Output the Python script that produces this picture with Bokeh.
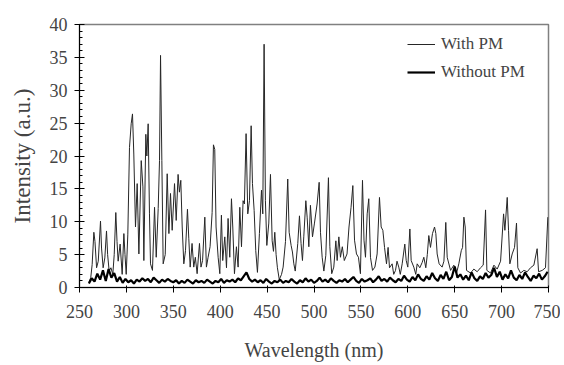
from bokeh.plotting import figure
from bokeh.models import Range1d, SingleIntervalTicker, Legend, LegendItem
from bokeh.embed import file_html
from bokeh.resources import INLINE

# ---- data ----
wl_with = [260.0, 262.0, 263.5, 265.3, 266.5, 268.2, 270.0, 272.4, 273.5, 275.2, 277.0, 278.8, 280.0, 281.6,
           283.5, 285.5, 287.0, 288.7, 290.0, 291.2, 293.3, 295.5, 297.3, 298.5, 299.8, 301.5, 303.3, 305.1,
           306.5, 307.9, 309.7, 311.5, 313.3, 315.8, 317.6, 318.6, 320.7, 321.8, 323.2, 324.6, 325.7, 327.8,
           330.0, 331.8, 333.9, 335.3, 336.4, 337.8, 339.2, 341.4, 343.5, 345.3, 347.0, 348.8, 351.3, 353.1,
           355.1, 356.5, 358.0, 359.5, 361.2, 363.0, 365.1, 366.5, 368.0, 370.0, 371.8, 373.5, 375.4, 377.9,
           379.5, 381.2, 383.6, 385.3, 387.1, 389.2, 391.4, 392.8, 394.2, 395.6, 397.8, 399.6, 401.3, 402.7,
           404.9, 406.7, 408.4, 410.2, 412.0, 413.4, 415.2, 417.3, 419.1, 420.9, 422.7, 424.4, 425.8, 427.6,
           429.4, 431.2, 433.0, 434.4, 436.2, 437.9, 439.7, 441.8, 444.0, 445.4, 446.8, 448.2, 449.7, 451.8,
           453.6, 455.4, 456.8, 458.2, 459.6, 461.0, 463.0, 465.4, 467.1, 469.6, 472.0, 473.5, 475.6, 477.0,
           478.5, 480.0, 482.7, 484.5, 486.2, 487.7, 489.1, 491.3, 492.7, 494.5, 496.2, 498.4, 500.5, 503.3,
           505.5, 506.9, 508.7, 510.5, 512.6, 515.4, 516.9, 518.9, 521.1, 523.3, 524.7, 526.5, 528.2, 530.2,
           532.3, 535.2, 537.3, 539.5, 541.4, 543.2, 545.3, 547.4, 549.5, 551.7, 553.3, 554.9, 556.7, 558.4,
           560.2, 562.4, 564.9, 567.3, 569.8, 571.6, 573.4, 575.2, 577.3, 579.0, 580.5, 583.3, 585.0, 586.9,
           588.5, 590.4, 592.0, 594.0, 596.8, 598.3, 600.0, 602.2, 603.6, 606.4, 608.5, 610.0, 612.8, 615.3,
           617.1, 619.2, 620.8, 622.4, 624.2, 626.3, 628.5, 629.9, 631.3, 633.4, 636.6, 638.5, 640.5, 642.0,
           645.6, 649.1, 652.0, 654.4, 657.0, 658.4, 659.8, 661.2, 662.6, 666.9, 670.4, 674.0, 677.5, 680.4,
           682.9, 684.3, 688.2, 691.8, 695.3, 698.9, 702.1, 703.5, 706.0, 707.4, 708.8, 711.3, 713.8, 715.9,
           717.3, 720.2, 723.7, 727.3, 730.8, 734.4, 737.9, 739.4, 743.3, 746.8, 749.3]
int_with = [0.8, 1.5, 3.5, 8.4, 7.0, 3.0, 4.0, 10.1, 6.0, 3.0, 4.5, 8.6, 5.0, 2.5,
            3.0, 2.0, 5.0, 11.4, 7.0, 4.0, 6.6, 2.0, 8.2, 5.0, 2.0, 8.0, 21.3, 24.9,
            26.4, 20.3, 9.2, 15.8, 5.1, 19.3, 15.3, 4.1, 23.3, 20.0, 24.9, 11.2, 3.6, 2.6,
            12.2, 4.6, 12.0, 19.3, 35.3, 19.3, 3.6, 5.0, 17.3, 8.2, 14.3, 8.7, 15.8, 10.2,
            17.2, 14.5, 16.3, 9.2, 3.6, 5.6, 11.9, 7.5, 3.1, 6.7, 3.1, 4.6, 2.1, 6.7,
            3.1, 4.1, 10.7, 3.1, 4.6, 6.2, 11.4, 21.7, 21.0, 9.2, 4.6, 2.1, 11.0, 4.1,
            7.7, 3.0, 10.5, 4.6, 13.5, 9.2, 2.1, 6.2, 3.1, 12.2, 6.2, 13.2, 12.7, 23.4,
            11.2, 13.2, 24.6, 15.8, 11.7, 5.6, 2.3, 8.2, 14.8, 11.2, 37.0, 13.2, 6.4, 9.8,
            17.2, 7.1, 5.5, 8.4, 5.0, 3.0, 1.2, 2.0, 3.1, 7.0, 16.5, 8.4, 6.4, 5.4,
            3.6, 2.5, 6.7, 10.9, 6.7, 4.1, 7.7, 13.2, 10.7, 6.2, 12.5, 7.7, 9.8, 12.7,
            16.0, 8.4, 4.6, 2.5, 4.9, 16.7, 6.2, 2.1, 3.1, 7.1, 4.1, 7.7, 4.6, 6.2,
            4.1, 5.1, 9.2, 12.2, 15.5, 7.2, 5.1, 4.6, 2.1, 16.3, 7.2, 4.6, 11.2, 13.5,
            4.6, 2.6, 3.1, 5.1, 13.7, 9.2, 8.7, 6.1, 3.6, 6.1, 3.0, 3.6, 2.0, 2.6,
            4.0, 3.1, 2.0, 3.6, 6.6, 4.1, 3.1, 8.9, 4.1, 3.1, 2.0, 3.6, 3.0, 3.8,
            4.6, 3.0, 5.0, 7.9, 6.1, 8.2, 9.2, 8.2, 5.1, 3.6, 3.1, 4.0, 9.9, 4.6,
            2.6, 3.4, 2.2, 3.6, 5.6, 6.1, 10.7, 9.2, 2.6, 2.2, 2.8, 2.4, 3.0, 3.4,
            11.8, 2.6, 2.2, 3.4, 2.8, 4.0, 11.2, 8.7, 13.7, 8.7, 3.6, 5.1, 6.1, 9.8,
            3.0, 2.2, 2.6, 2.4, 3.0, 3.4, 5.9, 2.4, 2.6, 3.0, 10.7]

wl_without = list(range(260, 750, 3))
int_without = [0.6, 1.4, 0.9, 2.1, 1.2, 2.6, 1.0, 2.8, 1.5, 2.2,
               0.9, 1.6, 0.7, 1.3, 0.8, 1.1, 0.6, 1.2, 0.9, 1.4,
               1.0, 1.3, 0.8, 1.5, 1.1, 0.7, 1.2, 0.9, 1.3, 1.0,
               0.8, 1.1, 0.6, 1.0, 0.7, 1.2, 0.9, 0.6, 1.1, 0.8,
               1.0, 0.7, 1.2, 0.9, 0.6, 1.0, 0.8, 1.3, 0.7, 1.1,
               0.9, 1.2, 0.8, 1.4, 1.1, 1.7, 2.3, 1.3, 0.9, 1.2,
               0.8, 1.1, 0.7, 1.3, 0.9, 0.6, 1.0, 0.8, 1.2, 0.7,
               1.0, 0.8, 1.3, 0.9, 0.6, 1.1, 0.8, 1.4, 0.9, 1.2,
               0.7, 1.0, 1.5, 0.9, 1.2, 0.8, 1.4, 1.0, 0.7, 1.1,
               0.9, 1.3, 0.8, 1.2, 1.6, 1.0, 0.7, 1.3, 0.9, 1.1,
               1.4, 0.8, 1.2, 1.7, 1.0, 1.3, 0.9, 1.5, 1.1, 0.8,
               1.3, 1.0, 1.8, 1.2, 0.9, 1.6, 1.1, 2.0, 1.3, 1.0,
               1.7, 1.2, 2.2, 1.4, 1.0, 1.9, 1.3, 2.4, 1.1, 1.6,
               3.2, 1.5, 2.0, 1.2, 1.8, 1.1, 2.3, 1.4, 1.0, 1.7,
               1.3, 2.2, 1.5, 1.9, 3.0, 1.6, 2.4, 1.2, 2.0, 1.4,
               2.6, 1.5, 1.1, 1.9, 1.3, 2.3, 1.6, 1.0, 1.8, 1.4,
               2.1, 1.2, 1.7, 2.4]

x_ticks_interval = 50
y_ticks_interval = 5
series_names = ["With PM", "Without PM"]

FONT = "Liberation Serif"

p = figure(width=560, height=365, output_backend="svg", toolbar_location=None,
           x_range=Range1d(250, 750), y_range=Range1d(0, 40),
           min_border_left=79, min_border_right=12, min_border_top=24, min_border_bottom=78)

r_with = p.line(wl_with, int_with, line_color="#262626", line_width=1)
r_without = p.line(wl_without, int_without, line_color="black", line_width=2.2)

p.xgrid.visible = False
p.ygrid.visible = False
p.outline_line_color = "#808080"
p.outline_line_width = 1.5
p.background_fill_color = "white"
p.border_fill_color = "white"

xa = p.xaxis[0]
xa.ticker = SingleIntervalTicker(interval=x_ticks_interval, num_minor_ticks=0)
xa.axis_label = "Wavelength (nm)"
xa.axis_label_text_font = FONT
xa.axis_label_text_font_size = "20px"
xa.axis_label_text_font_style = "normal"
xa.axis_label_standoff = 18
xa.major_label_text_font = FONT
xa.major_label_text_font_size = "18px"
xa.major_label_standoff = 12
xa.major_tick_in = 2
xa.major_tick_out = 5
xa.axis_line_color = "black"
xa.major_tick_line_color = "black"

ya = p.yaxis[0]
ya.ticker = SingleIntervalTicker(interval=y_ticks_interval, num_minor_ticks=5)
ya.axis_label = "Intensity (a.u.)"
ya.axis_label_text_font = FONT
ya.axis_label_text_font_size = "23px"
ya.axis_label_text_font_style = "normal"
ya.axis_label_standoff = 12
ya.major_label_text_font = FONT
ya.major_label_text_font_size = "18px"
ya.major_label_standoff = 7
ya.major_tick_in = 5
ya.major_tick_out = 5
ya.minor_tick_in = 3
ya.minor_tick_out = 0
ya.axis_line_color = "black"
ya.major_tick_line_color = "black"
ya.minor_tick_line_color = "black"

legend = Legend(items=[LegendItem(label=series_names[0], renderers=[r_with]),
                       LegendItem(label=series_names[1], renderers=[r_without])],
                location=(328, 205), margin=0, padding=0, spacing=8,
                glyph_width=28, glyph_height=20, label_height=20, label_standoff=6,
                label_text_font=FONT, label_text_font_size="17px",
                border_line_color=None, background_fill_alpha=0)
p.add_layout(legend, "center")

open("out.html", "w").write(file_html(p, INLINE))
